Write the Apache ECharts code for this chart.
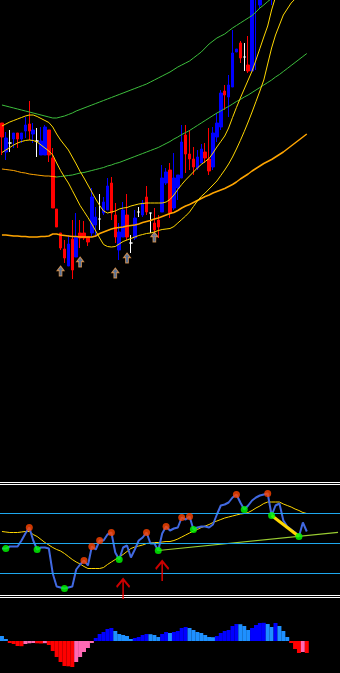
<!DOCTYPE html>
<html><head><meta charset="utf-8">
<script src="https://cdn.jsdelivr.net/npm/echarts@6/dist/echarts.min.js"></script>
<style>html,body{margin:0;padding:0;background:#000;}#c{width:340px;height:673px;}</style>
</head><body><div id="c"></div><script>
// ---------- price panel (open, close, low, high) ----------
const ohlc = [
 [177,163,145,177],[148,162,140,168],[157,157,148,170],[161,167,152,167],[167,161,152,167],
 [161,167,157,167],[169,175,162,183],[176,169,160,199],[166,170,157,177],[159,159,143,172],
 [145,159,145,173],[145,173,145,175],[170,145,138,170],[142,92,92,152],[91,73,73,91],
 [67,52,50,67],[51,42,37,60],[34,56,34,65],[61,30,21,80],[43,63,43,87],
 [67,62,52,80],[67,62,60,79],[63,58,54,63],[67,103,63,112],[75,83,63,93],
 [81,81,70,106],[87,98,85,103],[90,114,90,122],[117,87,80,123],[85,63,57,97],
 [50,68,40,77],[63,90,63,98],[85,63,60,106],[57,57,47,65],[62,82,60,90],
 [88,88,83,93],[85,97,83,100],[103,88,85,114],[87,87,67,87],[77,70,63,92],
 [80,73,62,85],[88,122,88,135],[117,128,115,132],[130,87,82,137],[92,122,90,147],
 [112,125,100,125],[122,158,122,175],[165,146,127,175],[146,141,130,170],[141,133,125,153],
 [132,143,130,150],[137,151,137,156],[148,142,137,157],[141,129,125,172],[133,167,130,173],
 [163,177,158,187],[173,207,170,210],[209,205,190,215],[203,215,183,225],[213,247,213,270],
 [248,251,248,251],[257,242,237,259],[243,243,229,257],[235,229,227,264],[229,330,229,340],
 [310,360,230,370],[295,380,292,390],null,null,[330,380,295,390]
];
const upperEnv = [195,194,193,192,191,190,189,188,187,186,185,184,183,182,182,183,184,185.5,187,189,
 190.5,192,193.5,195,196.5,198,199.5,201,202.5,204,205.5,207,208.5,210,211.5,213,214.5,216,218,220,
 222,224,226,228,230.5,233,235,237,239,242,245,248,252,256,259,262,264,266,269,272,
 274.5,277,279.5,282,284.5,288,292,295,298.5,301.5,305,308,311,314.5,318,321.5,325,328.5,332];
const midEnv = [131,130.5,130,129.5,128.5,127.5,127,126,125.5,125,124.5,124,124,123.5,123,123.5,124,124.5,125,126,
 127,127.5,128.5,129.5,130.5,131.5,132.5,134,135,136.5,137.5,139,140.5,142,143.5,145,146.5,148,149.5,151,
 152.5,154.5,156.5,158.5,161,163,165.5,167.5,169.5,172,174.5,177,179.5,182,184.5,187,189,191.5,193.5,196,
 198.5,200.5,203,205,207.5,210,212.5,215,217.5,220,223,225.5,228.5,231.5,234.5,237.5,240.5,243.5,246.5];
const lowerEnv = [65,65,64.5,64,64,63.5,63.5,63,63,63,63.5,63.5,64,66,66,65,64.5,64,63.5,63.5,
 63,63,63,63,64,66.5,68,69.5,71,72,72.5,73,74,74.5,75,76,77.5,78.5,79.5,81,
 82,83.5,85,86.5,87.5,89.5,92,94,95.5,97.5,99.5,101.5,103.5,105,107,108.5,110,111.5,113.5,115.5,
 118,121,123.5,126,129,131.5,134,136.5,138.5,140.5,143,145.5,148,151,154,157,160,163,166];
const bandHigh = [174,176,178,179.5,181,182.5,184,185,185,183.5,181.5,179.5,177.5,173,166,160,155,150,143,136,
 128.5,122,115,108,101,94.5,89,87,88,89,91,92,92.5,94,95,96,96.5,97,97,97,
 97,97,98,100.5,105,110.5,115.5,120,124,128,132,135.5,138.5,141.5,147,153,158.5,164,172,182.5,
 192.5,202,211,220,229,240,251.5,263,274,290,303,316,329,342,355,368,381,394,407];
const bandLow = [147.5,150,152.5,155,157,158.5,159.5,160,159.5,158,155,152,149,145,137,129.5,123,117,109.5,102,
 94.5,88.5,82.5,76,69,62,55.5,53.5,53,53.5,56,58.5,60,61.5,63,64.5,65.5,66.5,67,68,
 69.5,70.5,71,71.5,73.5,77,80.5,84,88,93.5,99,103.5,107,111,115,119,124.5,130,136,143,
 151,159.5,168.5,178,188,198.5,209,220,236,252,265,275,285,291,297,301,306,311,316];
const buySignals = [[15,29],[20,38],[29,27],[32,42],[39,63]];

// ---------- oscillator panel ----------
const oscLine = [45,45,47,47,47,53,60,66,53,44,46,46,45,20,7,6,5,6,7,24,
 29,33,28,47,44,53,53,59,61,41,34,46,48,36,44,53,56,61,50,50,
 43,60,67,63,65,66,76,74,77,64,66,67,67,66,69,79,88,89,91,96,
 99,91,84,88,93,96,98,99,100,78,88,90,73,67,64,61,57,71,62];
const oscSignal = [62,61.5,61,61,61,61.5,62,62,59,57,54,51,48.5,46,44,42.5,40,37,34,31.5,
 29.5,27,25,25,25,25,26,29,31.5,34,36.5,39,42,45,46.5,47.5,48.5,50,50.5,51,
 51,51.5,52,52,53,54.5,56.5,58.5,60.5,62.5,64,66,67.5,69,71,72.5,74,75.5,76.5,77.5,
 78.5,79.5,80,81,83,85.5,87.5,90,91.5,91.5,91.5,91.5,89.5,88,86.5,84.5,83,81,80];
const peakIdx = [7,21,23,25,28,37,42,46,48,60,68];
const troughIdx = [1,9,16,30,40,49,62,69,76];
const trendLine = [[40,43],[86,61.2]];
const divergence = [[69,78],[76,57]];
const oscLevels = [80,50,20];
const frameLevels = [111,109,-2,-4];
const markArrows = [[31,4.5],[41,22.5]];

// ---------- histogram panel ----------
const histogram = [5,2,-2,-3,-5,-5.2,-3,-2.3,-2,-2.3,-2.5,-2.2,-4,-10,-16,-21,-25,-25.3,-26,-21,
 -16,-11,-7,-2,3,7,9,12,13,10,7,6,5,2,3,4,6,7,6.8,6,
 4,7,9,8,9,10,13,14,13,11,9,8,6,4,3.8,5,8,10,11,15,
 17,16.8,15,11,13,16,18,18.2,17,14,18,15,10,4,-2,-8,-12,-11,-12];

const N = 87;
const categories = Array.from({length: N}, (_, i) => String(i));

const WHITE = '#FFFFFF';
const candleData = ohlc.map(d => {
  if (!d) return ['-','-','-','-'];
  if (d[0] === d[1]) return {value: d, itemStyle: {color: WHITE, color0: WHITE, borderColor: WHITE, borderColor0: WHITE, borderColorDoji: WHITE}};
  return d;
});

// split middle envelope into falling (orange) / rising (green) parts
const midFall = midEnv.map(() => null), midRise = midEnv.map(() => null);
for (let i = 1; i < midEnv.length; i++) {
  const tgt = midEnv[i] <= midEnv[i-1] ? midFall : midRise;
  tgt[i-1] = midEnv[i-1]; tgt[i] = midEnv[i];
}

const GREEN = '#3DBE3D', ORANGE = '#FFA500', YELLOW = '#FFD700', CYAN = '#1EA8EE';
function line(data, color, width, xi, extra) {
  return Object.assign({type: 'line', data, xAxisIndex: xi, yAxisIndex: xi, showSymbol: false, symbol: 'none',
    lineStyle: {color, width}, itemStyle: {color}, silent: true, animation: false, connectNulls: false}, extra || {});
}

const chart = echarts.init(document.getElementById('c'), null, {renderer: 'canvas'});
const xa = i => ({type: 'category', data: categories, gridIndex: i, show: false, boundaryGap: true});
chart.setOption({
  backgroundColor: '#000000',
  animation: false,
  grid: [
    {left: -2.5, width: 4 * N, top: 0, height: 300},
    {left: -3, width: 4 * N, top: 482.5, height: 115},
    {left: -3, width: 4 * N, top: 600, height: 73}
  ],
  xAxis: [xa(0), xa(1), xa(2)],
  yAxis: [
    {type: 'value', gridIndex: 0, min: 0, max: 300, show: false, splitLine: {show: false}},
    {type: 'value', gridIndex: 1, min: -4, max: 111, show: false, splitLine: {show: false}},
    {type: 'value', gridIndex: 2, min: -32, max: 41, show: false, splitLine: {show: false}}
  ],
  series: [
    {type: 'candlestick', xAxisIndex: 0, yAxisIndex: 0, data: candleData, barWidth: 3, silent: true, clip: true,
     itemStyle: {color: '#0000FF', color0: '#FF0000', borderColor: '#0000FF', borderColor0: '#FF0000', borderColorDoji: WHITE, borderWidth: 1}},
    line(upperEnv, GREEN, 1, 0),
    line(midFall, ORANGE, 1, 0),
    line(midRise, GREEN, 1, 0),
    line(lowerEnv, ORANGE, 1.5, 0),
    line(bandHigh, YELLOW, 1, 0),
    line(bandLow, YELLOW, 1, 0),
    {type: 'scatter', xAxisIndex: 0, yAxisIndex: 0, data: buySignals, silent: true,
     symbol: 'path://M5,0 L10,5 L7,5 L7,11 L3,11 L3,5 L0,5 Z', symbolSize: [7, 10],
     itemStyle: {color: '#6E8FBF', borderColor: '#F0A050', borderWidth: 1}},
    // oscillator
    line(oscSignal, YELLOW, 1, 1, {z: 2,
      markLine: {silent: true, symbol: ['none', 'none'], label: {show: false}, animation: false,
        data: oscLevels.map(v => ({yAxis: v, lineStyle: {color: CYAN, width: 1, type: 'solid'}}))
          .concat(frameLevels.map(v => ({yAxis: v, lineStyle: {color: WHITE, width: 1, type: 'solid'}})))}}),
    line(trendLine, '#9ACD32', 1.2, 1, {z: 2}),
    line(oscLine, '#4169E1', 2, 1, {z: 3}),
    line(divergence, YELLOW, 3, 1, {z: 4}),
    {type: 'scatter', xAxisIndex: 1, yAxisIndex: 1, z: 5, silent: true, symbolSize: 7,
     data: peakIdx.map(i => [i, oscLine[i]]), itemStyle: {color: '#FF4500'}},
    {type: 'scatter', xAxisIndex: 1, yAxisIndex: 1, z: 5, silent: true, symbolSize: 7,
     data: troughIdx.map(i => [i, oscLine[i]]), itemStyle: {color: '#00FF00'}},
    {type: 'scatter', xAxisIndex: 1, yAxisIndex: 1, z: 6, silent: true, clip: false,
     symbol: 'path://M0,8 L6,0 L12,8 M6,0 L6,20', symbolSize: [13, 20], data: markArrows,
     itemStyle: {color: 'rgba(0,0,0,0)', borderColor: '#FF0000', borderWidth: 2}},
    // histogram
    {type: 'bar', xAxisIndex: 2, yAxisIndex: 2, data: histogram, barWidth: 4, barCategoryGap: '0%', silent: true,
     itemStyle: {color: p => {
       const i = p.dataIndex, v = histogram[i], prev = i > 0 ? histogram[i-1] : v;
       if (v >= 0) return v > prev ? '#0000FF' : '#1E90FF';
       return v < prev ? '#FF0000' : '#FF69B4';
     }}}
  ]
});
</script></body></html>
